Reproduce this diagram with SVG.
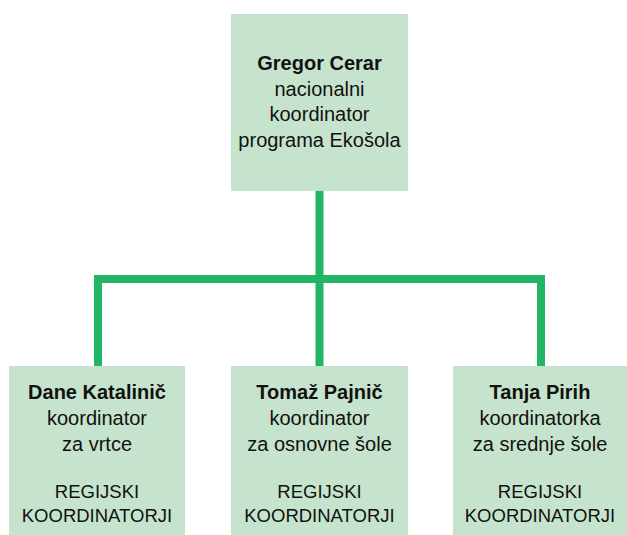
<svg xmlns="http://www.w3.org/2000/svg" width="627" height="535" viewBox="0 0 627 535">
<style>
.box{fill:#c6e4cd}
.conn{fill:none;stroke:#22b565;stroke-width:8;stroke-linejoin:miter;stroke-linecap:butt}
text{font-family:"Liberation Sans","Noto Sans",sans-serif;fill:#111;text-anchor:middle}
.t{font-size:20px}
.caps{font-size:18.5px}
.bold{font-weight:bold}
</style>
<rect width="627" height="535" fill="#fff"/>
<g id="connectors">
<path class="conn" d="M319.5,190 V279"/>
<path class="conn" d="M98,366 V279 H541 V366"/>
<path class="conn" d="M319.5,279 V366"/>
</g>
<g id="node-top">
<rect class="box" x="231" y="14" width="177" height="177"/>
<text class="t" x="319.5" y="70"><tspan class="bold">Gregor Cerar</tspan><tspan x="319.5" dy="25.5">nacionalni</tspan><tspan x="319.5" dy="25.5">koordinator</tspan><tspan x="319.5" dy="25.5">programa Ekošola</tspan></text>
</g>
<g id="node-left">
<rect class="box" x="9" y="366" width="176" height="169"/>
<text class="t" x="97" y="399"><tspan class="bold">Dane Katalinič</tspan><tspan x="97" dy="26">koordinator</tspan><tspan x="97" dy="26">za vrtce</tspan><tspan class="caps" x="97" dy="47">REGIJSKI</tspan><tspan class="caps" x="97" dy="24">KOORDINATORJI</tspan></text>
</g>
<g id="node-middle">
<rect class="box" x="231" y="366" width="177" height="169"/>
<text class="t" x="319.5" y="399"><tspan class="bold">Tomaž Pajnič</tspan><tspan x="319.5" dy="26">koordinator</tspan><tspan x="319.5" dy="26">za osnovne šole</tspan><tspan class="caps" x="319.5" dy="47">REGIJSKI</tspan><tspan class="caps" x="319.5" dy="24">KOORDINATORJI</tspan></text>
</g>
<g id="node-right">
<rect class="box" x="453" y="366" width="176" height="169"/>
<text class="t" x="540" y="399"><tspan class="bold">Tanja Pirih</tspan><tspan x="540" dy="26">koordinatorka</tspan><tspan x="540" dy="26">za srednje šole</tspan><tspan class="caps" x="540" dy="47">REGIJSKI</tspan><tspan class="caps" x="540" dy="24">KOORDINATORJI</tspan></text>
</g>
</svg>
